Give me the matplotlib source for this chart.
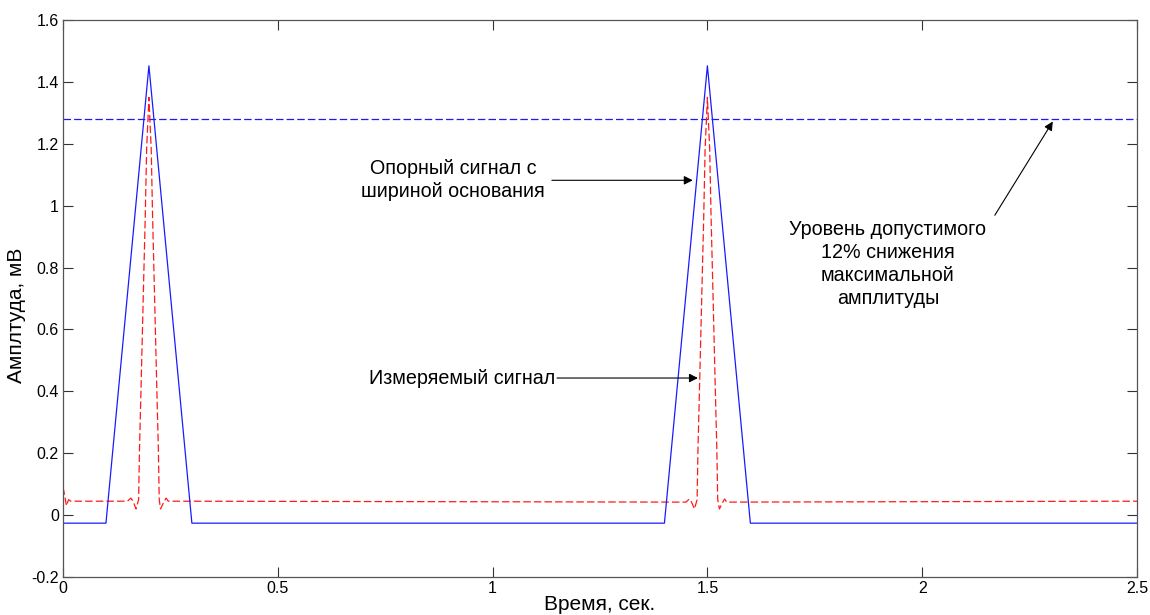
import matplotlib
matplotlib.use("Agg")
import matplotlib.pyplot as plt
import numpy as np

plt.rcParams['font.family'] = ['Liberation Sans', 'DejaVu Sans']

# ---- data ----
# reference (triangular) signal, solid blue
ref_t = [0.0, 0.1, 0.2, 0.3, 1.4, 1.5, 1.6, 2.5]
ref_v = [-0.026, -0.026, 1.452, -0.026, -0.026, 1.452, -0.026, -0.026]

# measured signal, dashed red
meas_t = [0.0, 0.003, 0.008, 0.013, 0.018,
          0.15, 0.158, 0.163, 0.17, 0.176, 0.178, 0.182, 0.1876, 0.1914, 0.1946,
          0.2, 0.2054, 0.2086, 0.2124, 0.218, 0.222, 0.224, 0.227, 0.234, 0.24, 0.245,
          1.45, 1.458, 1.463, 1.47, 1.476, 1.478, 1.482, 1.4876, 1.4914, 1.4946,
          1.5, 1.5054, 1.5086, 1.5124, 1.518, 1.522, 1.524, 1.528, 1.535, 1.54, 1.545,
          2.5]
meas_v = [0.09, 0.07, 0.03, 0.05, 0.045,
          0.045, 0.055, 0.045, 0.02, 0.05, 0.21, 0.43, 0.75, 0.96, 1.18,
          1.35, 1.18, 0.96, 0.75, 0.43, 0.21, 0.05, 0.02, 0.04, 0.055, 0.045,
          0.042, 0.052, 0.042, 0.02, 0.05, 0.21, 0.43, 0.75, 0.96, 1.18,
          1.35, 1.18, 0.96, 0.75, 0.43, 0.21, 0.05, 0.02, 0.04, 0.052, 0.042,
          0.045]

# 12 % reduction level, dashed blue
level_t = [0.0, 2.5]
level_v = [1.28, 1.28]

x_ticks = [0, 0.5, 1, 1.5, 2, 2.5]
x_labels = ['0', '0.5', '1', '1.5', '2', '2.5']
y_ticks = [-0.2, 0, 0.2, 0.4, 0.6, 0.8, 1.0, 1.2, 1.4, 1.6]
y_labels = ['-0.2', '0', '0.2', '0.4', '0.6', '0.8', '1', '1.2', '1.4', '1.6']

# ---- figure ----
fig = plt.figure(figsize=(11.5, 6.15), dpi=100)
ax = fig.add_axes([63/1150, 38/615, (1137-63)/1150, (577-20)/615])

ax.plot(level_t, level_v, color='#1a1aff', lw=0.9, dashes=(6, 2.5))
ax.plot(meas_t, meas_v, color='#ff1a1a', lw=0.9, dashes=(6, 2.5))
ax.plot(ref_t, ref_v, color='#1a1aff', lw=0.9)

ax.set_xlim(0, 2.5)
ax.set_ylim(-0.2, 1.6)
ax.set_xticks(x_ticks)
ax.set_xticklabels(x_labels)
ax.set_yticks(y_ticks)
ax.set_yticklabels(y_labels)
ax.tick_params(direction='in', length=7, width=0.8, color='#333333',
               top=True, right=True, labelsize=11.5, pad=3)
for s in ax.spines.values():
    s.set_color('#555555')
    s.set_linewidth(0.9)

ax.set_xlabel('Время, сек.', fontsize=15, labelpad=-1)
ax.set_ylabel('Амплтуда, мВ', fontsize=15)
ax.yaxis.set_label_coords(-0.034, 0.47)

txt_kw = dict(fontsize=14.2, color='black', linespacing=1.27)
arrow_kw = dict(arrowstyle='-|>', color='black', lw=0.8, mutation_scale=13,
                shrinkA=0, shrinkB=0)

ax.text(0.908, 1.082, 'Опорный сигнал с\nшириной основания',
        ha='center', va='center', multialignment='center', **txt_kw)
ax.annotate('', xy=(1.466, 1.082), xytext=(1.138, 1.082), arrowprops=arrow_kw)

ax.text(1.145, 0.443, 'Измеряемый сигнал', ha='right', va='center', **txt_kw)
ax.annotate('', xy=(1.478, 0.443), xytext=(1.15, 0.443), arrowprops=arrow_kw)

ax.text(1.92, 0.811, 'Уровень допустимого\n12% снижения\nмаксимальной\nамплитуды',
        ha='center', va='center', multialignment='center', **txt_kw)
ax.annotate('', xy=(2.304, 1.272), xytext=(2.169, 0.969), arrowprops=arrow_kw)

fig.savefig('out.png', dpi=100)
